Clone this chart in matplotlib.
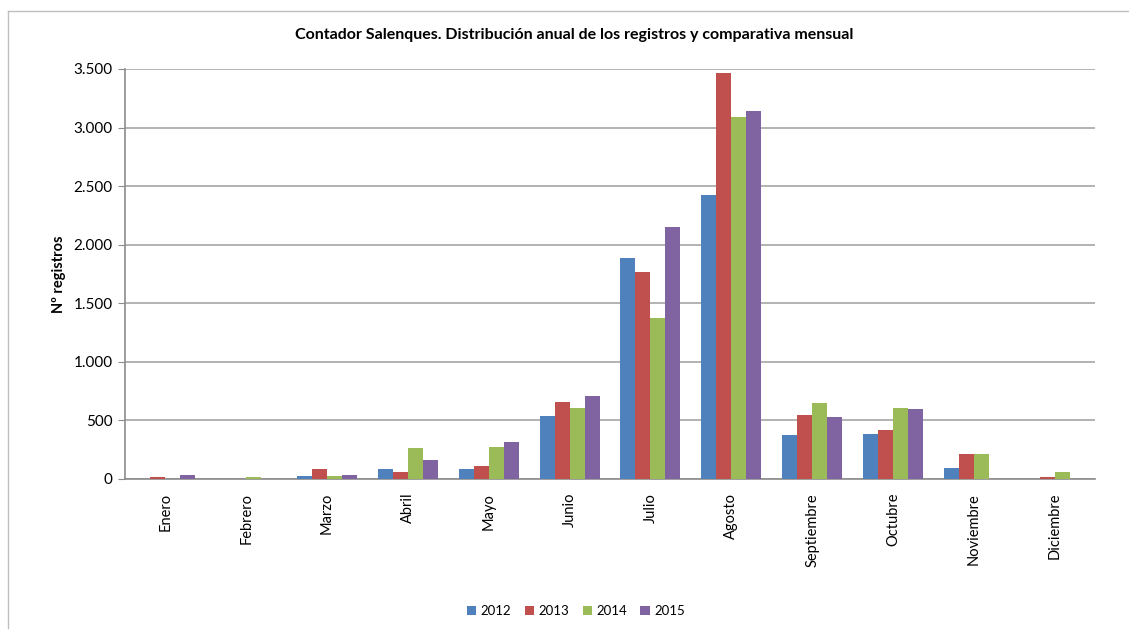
import matplotlib
matplotlib.use("Agg")
import matplotlib.pyplot as plt
import numpy as np
from matplotlib.ticker import FuncFormatter, MultipleLocator
from matplotlib.lines import Line2D

months = ["Enero", "Febrero", "Marzo", "Abril", "Mayo", "Junio", "Julio",
          "Agosto", "Septiembre", "Octubre", "Noviembre", "Diciembre"]
years = ["2012", "2013", "2014", "2015"]
v2012 = [0, 0, 28, 88, 88, 540, 1889, 2427, 378, 387, 96, 0]
v2013 = [20, 0, 88, 62, 113, 660, 1770, 3464, 549, 421, 216, 20]
v2014 = [0, 20, 28, 265, 275, 610, 1377, 3088, 651, 609, 216, 62]
v2015 = [37, 0, 37, 165, 318, 712, 2153, 3139, 532, 600, 0, 0]
colors = ["#4F81BD", "#C0504D", "#9BBB59", "#8064A2"]

plt.rcParams['font.family'] = ['Lato', 'DejaVu Sans']

fig = plt.figure(figsize=(11.29, 6.30), dpi=100)
ax = fig.add_axes([125/1129, 1 - 479/630, (1095-125)/1129, (479-69)/630])

x = np.arange(len(months))
w = 0.186
series = [v2012, v2013, v2014, v2015]
for i, (vals, c, y) in enumerate(zip(series, colors, years)):
    ax.bar(x + (i - 1.5) * w, vals, width=w, color=c, label=y, zorder=3)

ax.set_xlim(-0.5, len(months) - 0.5)
ax.set_ylim(0, 3500)
ax.yaxis.set_major_locator(MultipleLocator(500))
ax.yaxis.set_major_formatter(FuncFormatter(lambda v, p: f"{int(v):,}".replace(",", ".")))
ax.grid(axis='y', color='#A6A6A6', linewidth=1.2, zorder=0)
for s in ['top', 'right']:
    ax.spines[s].set_visible(False)
for s in ['left', 'bottom']:
    ax.spines[s].set_color('#8C8C8C')
    ax.spines[s].set_linewidth(1.2)
ax.tick_params(axis='y', length=5, color='#8C8C8C', labelsize=11, pad=4)
ax.tick_params(axis='x', length=0, labelsize=10.5, pad=10)
ax.set_xticks(x)
ax.set_xticklabels(months, rotation=90)
ax.set_ylabel("Nº registros", fontsize=10.5, fontweight='bold', labelpad=5)

fig.text(574/1129, 1 - 35/630, "Contador Salenques. Distribución anual de los registros y comparativa mensual",
         ha='center', va='center', fontsize=11.5, fontweight='bold')

leg = fig.legend(loc='center', bbox_to_anchor=(576/1129, 1 - 611/630), ncol=4, frameon=False,
                 fontsize=9.5, handlelength=0.7, handleheight=0.7, handletextpad=0.35, columnspacing=1.0)

# outer chart border
fig.add_artist(Line2D([8/1129, 8/1129], [1 - 628/630, 1 - 11/630], color='#BFBFBF', lw=1, transform=fig.transFigure))
fig.add_artist(Line2D([8/1129, 1], [1 - 11/630, 1 - 11/630], color='#BFBFBF', lw=1, transform=fig.transFigure))

fig.savefig("out.png", dpi=100)
